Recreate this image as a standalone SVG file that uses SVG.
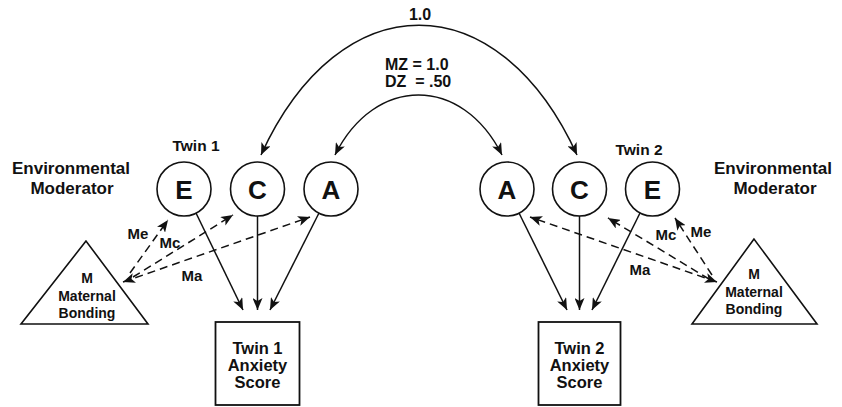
<svg xmlns="http://www.w3.org/2000/svg" width="842" height="407" viewBox="0 0 842 407">
<style>
text{font-family:"Liberation Sans",Arial,sans-serif;font-weight:bold;fill:#111;text-anchor:middle}
.node{fill:#fff;stroke:#111;stroke-width:1.6}
.big{font-size:26px}
.lbl{font-size:17px}
.box{font-size:16.5px}
.tri{font-size:14px}
.sm{font-size:15px}
.solid{fill:none;stroke:#111;stroke-width:1.5}
.dash{fill:none;stroke:#111;stroke-width:1.5;stroke-dasharray:8 5}
</style>
<defs>
<marker id="ah" viewBox="0 0 12 10" refX="12" refY="5" markerWidth="12" markerHeight="10" orient="auto-start-reverse" markerUnits="userSpaceOnUse">
<path d="M0,0 L12,5 L0,10 L3,5 z" fill="#111"/>
</marker>
</defs>

<g id="labels">
<text class="lbl" x="71" y="174">Environmental</text>
<text class="lbl" x="72" y="193.5">Moderator</text>
<text class="lbl" x="773" y="174">Environmental</text>
<text class="lbl" x="775" y="193.5">Moderator</text>
<text class="sm" x="196" y="151" style="font-size:15.5px">Twin 1</text>
<text class="sm" x="639" y="155" style="font-size:15.5px">Twin 2</text>
<text class="sm" x="420" y="20" style="font-size:16px">1.0</text>
<text x="385" y="70" style="font-size:16px;text-anchor:start">MZ = 1.0</text>
<text x="385" y="87" style="font-size:16px;text-anchor:start" xml:space="preserve">DZ  = .50</text>
</g>

<g id="connectors">
<path class="solid" d="M261,155 C340,-18 498,-18 577,155" marker-start="url(#ah)" marker-end="url(#ah)"/>
<path class="solid" d="M335,155 C375,75 462,75 502,155" marker-start="url(#ah)" marker-end="url(#ah)"/>
<line class="solid" x1="196" y1="213" x2="243" y2="310" marker-end="url(#ah)"/>
<line class="solid" x1="257.5" y1="216" x2="257.5" y2="310" marker-end="url(#ah)"/>
<line class="solid" x1="319" y1="213" x2="270" y2="310" marker-end="url(#ah)"/>
<line class="solid" x1="519" y1="213" x2="567" y2="310" marker-end="url(#ah)"/>
<line class="solid" x1="579.5" y1="216" x2="579.5" y2="310" marker-end="url(#ah)"/>
<line class="solid" x1="640" y1="213" x2="592" y2="310" marker-end="url(#ah)"/>
<line class="dash" x1="130" y1="273" x2="168" y2="220" marker-end="url(#ah)"/>
<line class="dash" x1="133" y1="277" x2="233" y2="215" marker-end="url(#ah)"/>
<line class="dash" x1="123" y1="282" x2="310" y2="217" marker-start="url(#ah)" marker-end="url(#ah)"/>
<line class="dash" x1="712" y1="275" x2="675" y2="218" marker-end="url(#ah)"/>
<line class="dash" x1="709" y1="279" x2="608" y2="218" marker-end="url(#ah)"/>
<line class="dash" x1="717" y1="282" x2="530" y2="217" marker-start="url(#ah)" marker-end="url(#ah)"/>
<text class="sm" x="138" y="239">Me</text>
<text class="sm" x="170" y="248">Mc</text>
<text class="sm" x="192" y="281">Ma</text>
<text class="sm" x="666" y="240">Mc</text>
<text class="sm" x="701" y="237">Me</text>
<text class="sm" x="640" y="275">Ma</text>
</g>

<g id="E1"><circle class="node" cx="184" cy="189" r="27"/><text class="big" x="184" y="199">E</text></g>
<g id="C1"><circle class="node" cx="257.5" cy="189" r="27"/><text class="big" x="257.5" y="199">C</text></g>
<g id="A1"><circle class="node" cx="331" cy="189" r="27"/><text class="big" x="331" y="199">A</text></g>
<g id="A2"><circle class="node" cx="507" cy="189" r="27"/><text class="big" x="507" y="199">A</text></g>
<g id="C2"><circle class="node" cx="579.5" cy="189" r="27"/><text class="big" x="579.5" y="199">C</text></g>
<g id="E2"><circle class="node" cx="652.5" cy="189" r="27"/><text class="big" x="652.5" y="199">E</text></g>

<g id="M1">
<polygon class="node" points="86,241 21,324 148,324"/>
<text class="tri" x="87" y="283">M</text>
<text class="tri" x="87" y="301">Maternal</text>
<text class="tri" x="87" y="318">Bonding</text>
</g>
<g id="M2">
<polygon class="node" points="754,239 692,324 817,324"/>
<text class="tri" x="754" y="279">M</text>
<text class="tri" x="754" y="297">Maternal</text>
<text class="tri" x="754" y="314">Bonding</text>
</g>

<g id="T1">
<rect class="node" x="215.5" y="322" width="84" height="83" style="stroke-width:1.8"/>
<text class="box" x="257.5" y="354">Twin 1</text>
<text class="box" x="257.5" y="371">Anxiety</text>
<text class="box" x="257.5" y="388">Score</text>
</g>
<g id="T2">
<rect class="node" x="538.5" y="322" width="82" height="83" style="stroke-width:1.8"/>
<text class="box" x="579.5" y="354">Twin 2</text>
<text class="box" x="579.5" y="371">Anxiety</text>
<text class="box" x="579.5" y="388">Score</text>
</g>
</svg>
